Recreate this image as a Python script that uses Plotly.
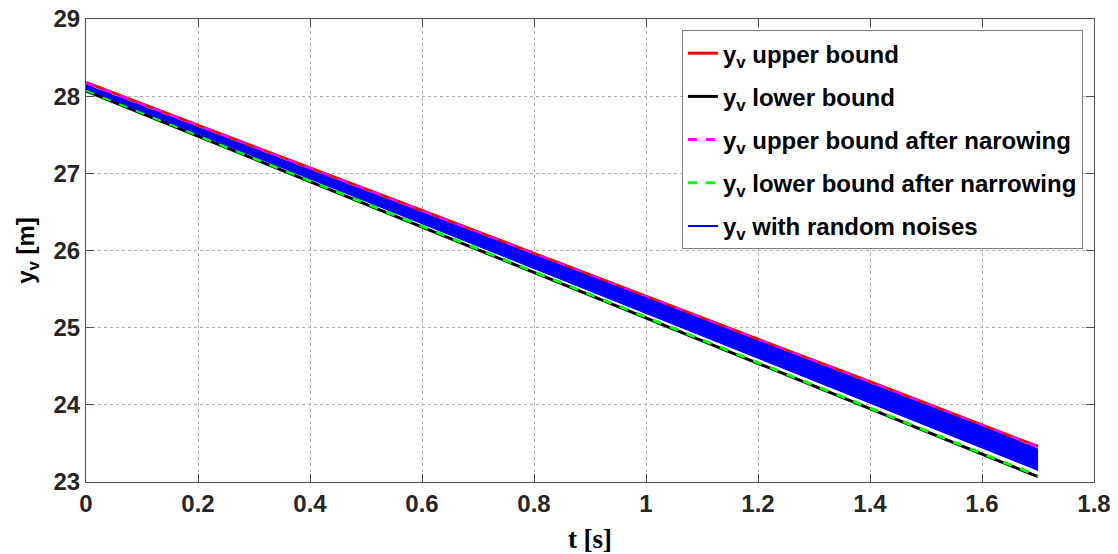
import plotly.graph_objects as go

# time samples (s)
t = [0, 0.2, 0.4, 0.6, 0.8, 1.0, 1.2, 1.4, 1.6, 1.7]
# bounds (m)
y_upper = [28.18, 27.62, 27.07, 26.52, 25.96, 25.41, 24.85, 24.30, 23.74, 23.46]
y_lower = [28.07, 27.48, 26.89, 26.30, 25.71, 25.13, 24.54, 23.95, 23.36, 23.07]
y_upper_narrow = [28.17, 27.61, 27.06, 26.51, 25.95, 25.40, 24.84, 24.29, 23.73, 23.45]
y_lower_narrow = [28.08, 27.49, 26.90, 26.31, 25.72, 25.14, 24.55, 23.96, 23.37, 23.08]
# envelope of the noisy realisations (m)
noise_top = [28.14, 27.59, 27.04, 26.49, 25.93, 25.38, 24.82, 24.27, 23.71, 23.42]
noise_bottom = [28.09, 27.51, 26.93, 26.35, 25.77, 25.19, 24.61, 24.03, 23.44, 23.15]

x_ticks = [0, 0.2, 0.4, 0.6, 0.8, 1.0, 1.2, 1.4, 1.6, 1.8]
x_tick_labels = ["0", "0.2", "0.4", "0.6", "0.8", "1", "1.2", "1.4", "1.6", "1.8"]
y_ticks = [23, 24, 25, 26, 27, 28, 29]

fig = go.Figure()

fig.add_trace(go.Scatter(x=t, y=y_upper, mode="lines",
                         line=dict(color="#ff0000", width=3),
                         name="y<sub>v</sub> upper bound", legendgroup="a"))
fig.add_trace(go.Scatter(x=t, y=y_lower, mode="lines",
                         line=dict(color="#000000", width=3),
                         name="y<sub>v</sub> lower bound", legendgroup="b"))
fig.add_trace(go.Scatter(x=t, y=y_upper_narrow, mode="lines",
                         line=dict(color="#ff00ff", width=3, dash="dash"),
                         name="y<sub>v</sub> upper bound after narowing", legendgroup="c"))
fig.add_trace(go.Scatter(x=t, y=y_lower_narrow, mode="lines",
                         line=dict(color="#00ff00", width=3, dash="dash"),
                         name="y<sub>v</sub> lower bound after narrowing", legendgroup="d"))
# noisy band (drawn between the bounds)
fig.add_trace(go.Scatter(x=t, y=noise_bottom, mode="lines",
                         line=dict(color="#0000ff", width=1),
                         showlegend=False, hoverinfo="skip", legendgroup="e"))
fig.add_trace(go.Scatter(x=t, y=noise_top, mode="lines",
                         line=dict(color="#0000ff", width=1),
                         fill="tonexty", fillcolor="#0000ff",
                         showlegend=False, legendgroup="e"))
fig.add_trace(go.Scatter(x=t, y=noise_top, mode="lines",
                         line=dict(color="#0000ff", width=2),
                         name="y<sub>v</sub> with random noises", legendgroup="e"))

tickfont = dict(family="Liberation Sans", size=24, color="#262626", weight="bold")

fig.update_layout(
    width=1118, height=554,
    margin=dict(l=86, r=24, t=19, b=72),
    paper_bgcolor="white", plot_bgcolor="white",
    showlegend=True,
    legend=dict(x=0.989, y=0.976, xanchor="right", yanchor="top",
                bgcolor="white", bordercolor="#7f7f7f", borderwidth=1,
                font=dict(family="Liberation Sans", size=24, color="#000000", weight="bold"),
                traceorder="grouped", tracegroupgap=9, itemwidth=30),
    xaxis=dict(range=[0, 1.8], tickvals=x_ticks, ticktext=x_tick_labels,
               showgrid=True, gridcolor="#b0b0b0", griddash="dot", gridwidth=1,
               showline=True, linecolor="#4d4d4d", linewidth=1, mirror="ticks",
               ticks="inside", ticklen=8, tickcolor="#4d4d4d",
               tickfont=tickfont, zeroline=False, automargin=False,
               ticklabeloverflow="allow",
               title=dict(text="t [s]", standoff=14,
                          font=dict(family="Liberation Serif", size=27, color="#000000", weight="bold"))),
    yaxis=dict(range=[23, 29], tickvals=y_ticks,
               showgrid=True, gridcolor="#b0b0b0", griddash="dot", gridwidth=1,
               showline=True, linecolor="#4d4d4d", linewidth=1, mirror="ticks",
               ticks="inside", ticklen=8, tickcolor="#4d4d4d",
               tickfont=tickfont, zeroline=False, automargin=False,
               ticklabeloverflow="allow",
               title=dict(text="y<sub>v</sub> [m]", standoff=12,
                          font=dict(family="Liberation Sans", size=24, color="#000000", weight="bold"))),
)

fig.write_html("out.html", post_script="document.body.style.margin='0';",
               config={"displayModeBar": False})
